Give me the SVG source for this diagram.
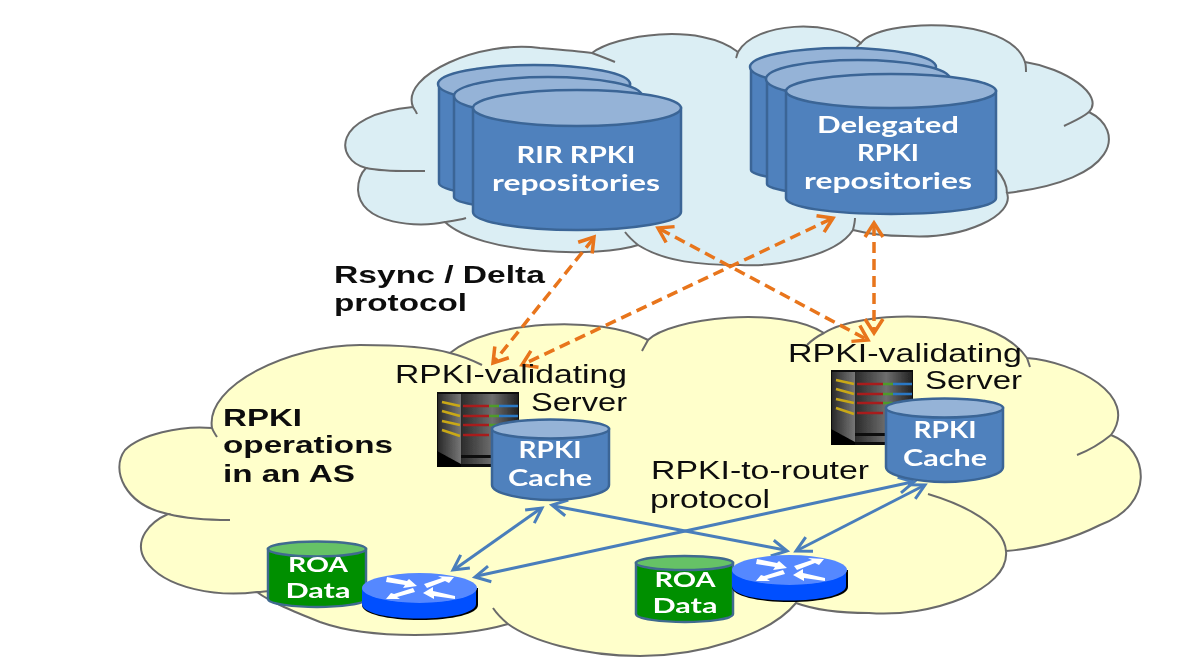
<svg xmlns="http://www.w3.org/2000/svg" width="1194" height="669" viewBox="0 0 1194 669">
<style>
.cloudT{fill:#dbeef4;stroke:#6b6b6b;stroke-width:2}
.cloudY{fill:#ffffcb;stroke:#6b6b6b;stroke-width:2}
.tail{fill:none;stroke:#6b6b6b;stroke-width:2}
.body{fill:#4f81bd;stroke:#3a6596;stroke-width:2.5}
.cap{fill:#95b3d7;stroke:#3a6596;stroke-width:2.5}
.gbody{fill:#008f00;stroke:#3f6b8f;stroke-width:2.5}
.gcap{fill:#66c266;stroke:#3f6b8f;stroke-width:2.5}
.w{fill:#fff;font-family:"Lato","Open Sans",sans-serif;font-weight:700;text-anchor:middle}
.k{fill:#111;font-family:"Liberation Sans",Arial,sans-serif;font-size:25px}
.kb{fill:#111;font-family:"Liberation Sans",Arial,sans-serif;font-weight:700;font-size:24px}
.o{fill:none;stroke:#e8741a;stroke-width:3.5;stroke-dasharray:11 6}
.oh{fill:none;stroke:#e8741a;stroke-width:3.5}
.b{fill:none;stroke:#4a7ebb;stroke-width:3}
</style>
<defs>
<linearGradient id="srvL" x1="0" x2="1" y1="0" y2="0"><stop offset="0" stop-color="#2a2a2a"/><stop offset="1" stop-color="#777"/></linearGradient>
<linearGradient id="srvF" x1="0" x2="1" y1="0" y2="0"><stop offset="0" stop-color="#2b2b2b"/><stop offset=".55" stop-color="#6e6e6e"/><stop offset="1" stop-color="#222"/></linearGradient>
<filter id="soft" x="-5%" y="-5%" width="110%" height="110%"><feGaussianBlur stdDeviation="0.6"/></filter>
<g id="server">
<rect x="0" y="0" width="82" height="75" fill="#0c0c0c"/>
<rect x="1" y="2" width="23" height="70" fill="url(#srvL)"/>
<rect x="24" y="2" width="57" height="70" fill="url(#srvF)"/>
<path d="M0 59L24 72V75H0Z" fill="#000"/>
<rect x="24" y="63" width="57" height="3" fill="#111"/>
<g fill="none" stroke-width="2.4">
<path d="M5 10L23 14M5 19L23 24M5 29L23 33M5 38L23 44" stroke="#c9a818"/>
<path d="M26 14H52M26 24H52M26 33H52M26 43H52" stroke="#a81c1c"/>
<path d="M52 14H62M52 24H62M52 33H62" stroke="#4f9a2a"/>
<path d="M62 14H81M62 24H81" stroke="#2a78c4"/>
</g>
</g>
<g id="routerShape">
<path d="M0 15V32C0 41 26 47 58 47S116 41 116 32V15Z" fill="#000"/>
<path d="M0 15V31C0 40 26 45.500 57 45.500S114 40 114 31V15Z" fill="#0050ff"/>
<ellipse cx="57.500" cy="15" rx="57.500" ry="15" fill="#5588ff"/>
<g fill="#fff">
<path d="M25 4L45 8L47 6L55 13L41 15L43 12L24 9Z"/>
<path d="M62 11L80 5L76 3L92 4L87 10L83 8L65 15Z"/>
<path d="M53 19L35 24L38 26L24 26L29 20L32 21L51 15Z"/>
<path d="M93 26L72 23L72 26L61 20L71 14L71 18L93 23Z"/>
</g>
</g>
<g id="oh"><path class="oh" d="M-14 -9L0 0L-14 9"/></g>
<g id="bh"><path class="b" d="M-15 -8L0 0L-15 8"/></g>
</defs>
<rect width="1194" height="669" fill="#fff"/>
<g filter="url(#soft)">
<g id="cloud-top">
<path class="cloudT" d="M592 53C615 35 700 22 738 52C755 22 830 18 861 43C880 18 1010 15 1025 62C1065 68 1105 95 1089 112C1125 130 1120 180 1007 193C1015 215 965 240 905 236C885 236 865 233 853 230C835 258 770 267 740 265C700 265 665 262 638 245C600 258 480 255 445 222C420 228 360 225 358 190C358 180 362 172 366 168C335 160 330 115 413 107C400 75 480 40 540 48C565 50 585 52 592 53Z"/>
<path class="tail" d="M592 53C600 56 608 59 615 62M738 52C737 54 737 56 736 58M861 43C858 45 856 48 854 51M1025 62C1026 65 1026 68 1026 72M1089 112C1082 118 1072 122 1064 126M1007 193C1007 185 1003 177 997 170M853 230C854 226 855 222 855 218M638 245C632 240 628 236 625 232M445 222C452 221 460 220 466 218M366 168C385 172 405 171 425 171M413 107C414 109 416 111 417 114"/>
</g>
<g id="cloud-as">
<path class="cloudY" d="M450 353C490 320 600 315 648 340C670 318 780 305 824 333C860 310 990 305 1027 358C1075 362 1140 395 1111 435C1150 450 1155 505 1100 525C1070 540 1040 548 1006 551C1010 590 930 618 869 613C840 613 815 610 796 603C770 635 700 656 640 656C580 656 530 640 508 624C460 638 370 640 320 622C295 612 270 602 257 592C220 597 165 590 145 560C133 540 150 522 168 514C125 505 110 470 125 450C140 435 180 425 212 428C205 385 290 345 360 345C400 345 430 347 450 353Z"/>
<path class="tail" d="M450 353C462 356 472 360 482 365M648 340C646 344 644 347 642 351M824 333C818 336 812 340 807 345M1027 358C1028 361 1029 364 1030 367M1111 435C1100 444 1090 450 1077 455M1006 551C1004 525 965 505 928 494M508 624C502 619 497 614 493 608M257 592C262 592 266 591 270 591M168 514C188 519 210 520 230 520M212 428C213 431 215 434 217 437"/>
</g>
</g>
<g id="connectors" filter="url(#soft)">
<path class="o" d="M593 239L494 362"/><use href="#oh" transform="translate(594 237) rotate(-51)"/><use href="#oh" transform="translate(493 363) rotate(129)"/>
<path class="o" d="M831 219L524 364"/><use href="#oh" transform="translate(833 218) rotate(-25)"/><use href="#oh" transform="translate(522 365) rotate(155)"/>
<path class="o" d="M660 229L866 339"/><use href="#oh" transform="translate(658 228) rotate(208)"/><use href="#oh" transform="translate(868 340) rotate(28)"/>
<path class="o" d="M874 225V331"/><use href="#oh" transform="translate(874 223) rotate(-90)"/><use href="#oh" transform="translate(874 333) rotate(90)"/>
<path class="b" d="M540 509L455 569"/><use href="#bh" transform="translate(542 508) rotate(-35)"/><use href="#bh" transform="translate(453 570) rotate(145)"/>
<path class="b" d="M554 506L785 550"/><use href="#bh" transform="translate(552 505) rotate(191)"/><use href="#bh" transform="translate(787 551) rotate(11)"/>
<path class="b" d="M912 482L477 576"/><use href="#bh" transform="translate(914 482) rotate(-12)"/><use href="#bh" transform="translate(475 577) rotate(168)"/>
<path class="b" d="M923 486L798 550"/><use href="#bh" transform="translate(925 485) rotate(-27)"/><use href="#bh" transform="translate(796 551) rotate(153)"/>
</g>
<g filter="url(#soft)">
<g id="rir-repositories">
<path class="body" d="M439 84V183C439 191 485 197 533 197S630 191 630 183V84Z"/><ellipse class="cap" cx="534" cy="84" rx="96" ry="19"/>
<path class="body" d="M454 96V197C454 204 500 210 548 210S642 204 642 197V96Z"/><ellipse class="cap" cx="548" cy="96" rx="94" ry="19"/>
<path class="body" d="M473 108V212C473 222 520 230 577 230S681 222 681 212V108Z"/><ellipse class="cap" cx="577" cy="108" rx="104" ry="18"/>
<text class="w" x="576" y="163" font-size="23" textLength="119" lengthAdjust="spacingAndGlyphs">RIR RPKI</text>
<text class="w" x="576" y="191" font-size="23" textLength="168" lengthAdjust="spacingAndGlyphs">repositories</text>
</g>
<g id="delegated-repositories">
<path class="body" d="M751 67V170C751 176 790 182 843 182S935 176 935 170V67Z"/><ellipse class="cap" cx="843" cy="67" rx="93" ry="19"/>
<path class="body" d="M767 79V184C767 190 810 196 858 196S950 190 950 184V79Z"/><ellipse class="cap" cx="858" cy="79" rx="92" ry="19"/>
<path class="body" d="M786 91V198C786 207 830 214 891 214S996 207 996 198V91Z"/><ellipse class="cap" cx="891" cy="91" rx="105" ry="17"/>
<text class="w" x="888" y="133" font-size="23" textLength="142" lengthAdjust="spacingAndGlyphs">Delegated</text>
<text class="w" x="888" y="161" font-size="23" textLength="62" lengthAdjust="spacingAndGlyphs">RPKI</text>
<text class="w" x="888" y="189" font-size="23" textLength="168" lengthAdjust="spacingAndGlyphs">repositories</text>
</g>
<g id="labels">
<text class="kb" x="334" y="283" textLength="211" lengthAdjust="spacingAndGlyphs">Rsync / Delta</text>
<text class="kb" x="334" y="311" textLength="133" lengthAdjust="spacingAndGlyphs">protocol</text>
<text class="kb" x="223" y="426" textLength="79" lengthAdjust="spacingAndGlyphs">RPKI</text>
<text class="kb" x="223" y="453" textLength="170" lengthAdjust="spacingAndGlyphs">operations</text>
<text class="kb" x="223" y="482" textLength="132" lengthAdjust="spacingAndGlyphs">in an AS</text>
<text class="k" x="651" y="479" textLength="218" lengthAdjust="spacingAndGlyphs">RPKI-to-router</text>
<text class="k" x="650" y="508" textLength="120" lengthAdjust="spacingAndGlyphs">protocol</text>
</g>
<g id="validator-left">
<use href="#server" x="437" y="392"/>
<text class="k" x="395" y="383" textLength="232" lengthAdjust="spacingAndGlyphs">RPKI-validating</text>
<text class="k" x="531" y="411" textLength="96" lengthAdjust="spacingAndGlyphs">Server</text>
</g>
<g id="cache-left">
<path class="body" d="M492 429V485C492 494 525 500 551 500S609 494 609 485V429Z"/><ellipse class="cap" cx="550.500" cy="429" rx="58.500" ry="9.500"/>
<text class="w" x="550" y="458" font-size="23" textLength="63" lengthAdjust="spacingAndGlyphs">RPKI</text>
<text class="w" x="550" y="486" font-size="23" textLength="84" lengthAdjust="spacingAndGlyphs">Cache</text>
</g>
<g id="validator-right">
<use href="#server" x="831" y="370"/>
<text class="k" x="788" y="362" textLength="234" lengthAdjust="spacingAndGlyphs">RPKI-validating</text>
<text class="k" x="925" y="389" textLength="97" lengthAdjust="spacingAndGlyphs">Server</text>
</g>
<g id="cache-right">
<path class="body" d="M886 408V467C886 476 918 482 945 482S1003 476 1003 467V408Z"/><ellipse class="cap" cx="944.500" cy="408" rx="58.500" ry="9.500"/>
<text class="w" x="945" y="438" font-size="23" textLength="63" lengthAdjust="spacingAndGlyphs">RPKI</text>
<text class="w" x="945" y="466" font-size="23" textLength="84" lengthAdjust="spacingAndGlyphs">Cache</text>
</g>
<g id="roa-left">
<path class="gbody" d="M268 549V599C268 604 295 607 317 607S366 604 366 599V549Z"/><ellipse class="gcap" cx="317" cy="549" rx="49" ry="7.500"/>
<text class="w" x="318" y="572" font-size="21.500" textLength="60" lengthAdjust="spacingAndGlyphs">ROA</text>
<text class="w" x="318" y="598" font-size="21.500" textLength="65" lengthAdjust="spacingAndGlyphs">Data</text>
</g>
<g id="router-left"><use href="#routerShape" x="362" y="573"/></g>
<g id="roa-right">
<path class="gbody" d="M636 563V614C636 619 662 622 685 622S733 619 733 614V563Z"/><ellipse class="gcap" cx="684.500" cy="563" rx="48.500" ry="7"/>
<text class="w" x="685" y="587" font-size="21.500" textLength="61" lengthAdjust="spacingAndGlyphs">ROA</text>
<text class="w" x="685" y="613" font-size="21.500" textLength="65" lengthAdjust="spacingAndGlyphs">Data</text>
</g>
<g id="router-right"><use href="#routerShape" x="732" y="555"/></g>
</g>
</svg>
